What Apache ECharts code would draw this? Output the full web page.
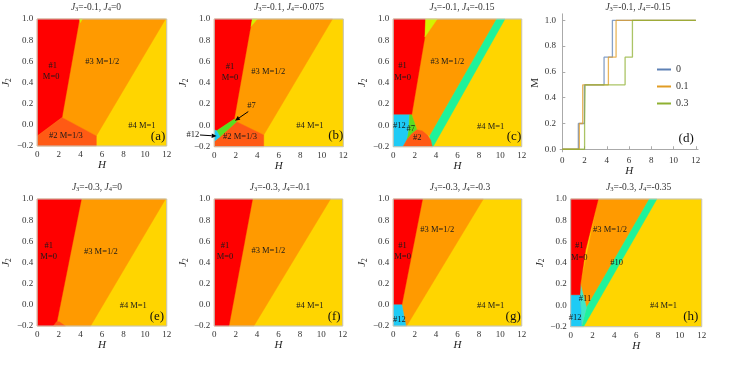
<!DOCTYPE html>
<html><head><meta charset="utf-8">
<script src="https://cdn.jsdelivr.net/npm/echarts@6/dist/echarts.min.js"></script>
<style>html,body{margin:0;padding:0;background:#fff}#c{width:729px;height:365px}</style>
</head><body><div id="c"></div>
<script>
// ---------------- DATA ----------------
const FULL = [[0,-0.2],[12,-0.2],[12,1],[0,1]];
// panel (a) J3=-0.1, J4=0
const A_orange = [[3.92,1],[11.9,1],[5.48,-0.105],[2.3,0.07]];
const A_red    = [[0,1],[3.92,1],[2.3,0.07],[0,-0.105]];
const A_p2     = [[0,-0.105],[2.3,0.07],[5.48,-0.105],[5.48,-0.2],[0,-0.2]];
const A_yg     = [[3.92,1],[4.18,1],[4.0,0.965]];
// panel (b) J3=-0.1, J4=-0.075
const B_orange = [[3.53,1],[11.0,1],[4.6,-0.09],[2.08,0.035],[1.86,0.06]];
const B_red    = [[0,1],[3.53,1],[3.3,0.88],[1.86,0.06],[0.22,-0.05],[0,-0.04]];
const B_yg     = [[3.53,1],[4.0,1],[3.42,0.93]];
const B_g7     = [[1.86,0.06],[2.08,0.035],[0.53,-0.106],[0.22,-0.05]];
const B_cy     = [[0,-0.04],[0.22,-0.05],[0.53,-0.106],[0,-0.15]];
const B_p2     = [[0,-0.15],[0.53,-0.106],[2.08,0.035],[4.6,-0.09],[4.6,-0.2],[0,-0.2]];
// panel (c) J3=-0.1, J4=-0.15
const C_orange = [[3.02,1],[9.66,1],[3.4,-0.1],[2.7,-0.05],[2.2,-0.04],[1.72,0.1],[2.95,0.83]];
const C_b10    = [[9.66,1],[10.44,1],[3.72,-0.2],[3.55,-0.2],[3.4,-0.1]];
const C_red    = [[0,1],[3.02,1],[2.95,0.83],[1.72,0.1],[0,0.1]];
const C_yg     = [[3.02,1],[4.11,1],[2.95,0.83]];
const C_cy     = [[0,0.1],[1.53,0.1],[1.45,-0.05],[1.3,-0.13],[0.9,-0.2],[0,-0.2]];
const C_g7     = [[1.53,0.1],[1.72,0.1],[2.2,-0.04],[1.7,-0.08],[1.3,-0.13],[1.45,-0.05]];
const C_p2     = [[0.9,-0.2],[1.3,-0.13],[1.7,-0.08],[2.2,-0.04],[2.7,-0.05],[3.2,-0.09],[3.5,-0.14],[3.65,-0.2]];
// panel (d) magnetization curves, J3=-0.1, J4=-0.15
const magSeriesNames = ['0','0.1','0.3'];
const mag_J2_0   = [[0,0],[1.44,0.2],[1.98,0.5],[3.75,0.714],[4.5,1],[12,1]];
const mag_J2_0_1 = [[0,0],[1.53,0.2],[1.83,0.5],[4.14,0.714],[4.83,1],[12,1]];
const mag_J2_0_3 = [[0,0],[2.0,0.2],[2.05,0.5],[5.64,0.714],[6.3,1],[12,1]];
const magTicksX = [0,2,4,6,8,10,12];
const magTicksY = [0,0.2,0.4,0.6,0.8,1.0];
// panel (e) J3=-0.3, J4=0
const E_orange = [[4.1,1],[11.9,1],[4.95,-0.2],[1.75,-0.2]];
const E_red    = [[0,1],[4.1,1],[1.75,-0.2],[0,-0.2]];
const E_p2     = [[1.5,-0.2],[1.78,-0.16],[2.05,-0.16],[2.6,-0.2]];
// panel (f) J3=-0.3, J4=-0.1
const F_orange = [[3.58,1],[10.87,1],[3.7,-0.2],[1.37,-0.2]];
const F_red    = [[0,1],[3.58,1],[1.37,-0.2],[0,-0.2]];
// panel (g) J3=-0.3, J4=-0.3
const G_orange = [[2.74,1],[8.42,1],[1.25,-0.2],[1.18,-0.2],[0.8,0]];
const G_red    = [[0,1],[2.74,1],[0.8,0],[0,0]];
const G_cy     = [[0,0],[0.8,0],[1.18,-0.2],[0,-0.2]];
// panel (h) J3=-0.3, J4=-0.35
const H_orange = [[2.53,1],[7.2,1],[1.45,-0.02],[0.9,0.2]];
const H_b10    = [[7.2,1],[7.9,1],[1.18,-0.2],[1.0,-0.2],[1.45,-0.02]];
const H_c11    = [[0.9,0.2],[1.45,-0.02],[1.0,-0.2],[0.95,-0.05],[0.85,0.1]];
const H_cy     = [[0,0.1],[0.85,0.1],[0.95,-0.05],[1.0,-0.2],[0,-0.2]];
const H_red    = [[0,1],[2.53,1],[1.37,0.52],[0.9,0.2],[0.85,0.1],[0,0.1]];

// text annotations [H, J2, text]
const ann_a = [[1.44,0.56,'#1'],[1.29,0.45,'M=0'],[6.03,0.6,'#3 M=1/2'],[2.66,-0.105,'#2 M=1/3'],[9.7,-0.01,'#4 M=1']];
const ann_b = [[1.46,0.55,'#1'],[1.46,0.45,'M=0'],[5.02,0.5,'#3 M=1/2'],[3.47,0.18,'#7'],[-2.0,-0.09,'#12'],[2.39,-0.106,'#2 M=1/3'],[8.9,-0.006,'#4 M=1']];
const arrows_b = [[[3.16,0.13],[1.92,0.044]],[[-1.33,-0.09],[0.22,-0.1]]];
const ann_c = [[0.87,0.56,'#1'],[0.87,0.45,'M=0'],[5.05,0.6,'#3 M=1/2'],[0.56,-0.006,'#12'],[1.62,-0.03,'#7'],[2.24,-0.12,'#2'],[9.1,-0.01,'#4 M=1']];
const ann_e = [[1.06,0.56,'#1'],[1.06,0.45,'M=0'],[5.9,0.5,'#3 M=1/2'],[8.9,-0.01,'#4 M=1']];
const ann_f = [[1.0,0.56,'#1'],[1.0,0.45,'M=0'],[5.05,0.51,'#3 M=1/2'],[8.94,-0.006,'#4 M=1']];
const ann_g = [[0.87,0.56,'#1'],[0.87,0.45,'M=0'],[4.11,0.71,'#3 M=1/2'],[0.56,-0.14,'#12'],[9.1,-0.01,'#4 M=1']];
const ann_h = [[0.79,0.56,'#1'],[0.79,0.45,'M=0'],[3.6,0.71,'#3 M=1/2'],[4.2,0.4,'#10'],[1.31,0.06,'#11'],[0.4,-0.12,'#12'],[8.5,-0.006,'#4 M=1']];

const titlesJ3 = ['-0.1','-0.1','-0.1','-0.1','-0.3','-0.3','-0.3','-0.3'];
const titlesJ4 = ['0','-0.075','-0.15','-0.15','0','-0.1','-0.3','-0.35'];
const panelTags = ['(a)','(b)','(c)','(d)','(e)','(f)','(g)','(h)'];

// ---------------- STYLE / LAYOUT ----------------
const SERIF = 'Liberation Serif';
const COL = {y:'#FFD500', o:'#FF9A00', r:'#FF0000', p2:'#FF5A14', cy:'#1ECBF5', g7:'#5ADD22', b10:'#1EF29B', c11:'#3FE6C9', yg:'#D4F200'};
const GRIDS = [
  {left:36,  top:19, width:130.7, height:127},
  {left:214.3, top:19, width:129, height:127.7},
  {left:393.3, top:19, width:128.4, height:127.7},
  {left:560.1, top:13.85, width:138, height:138},
  {left:35, top:199, width:131.7, height:127},
  {left:214.3, top:199, width:128.4, height:127},
  {left:393.3, top:199, width:128.4, height:127},
  {left:570.7, top:199, width:131, height:127.7}
];
const TITLE_POS = [[96,7],[289,7],[462,7],[638,7],[97,187],[280,187],[460,187],[638.7,187]];

const phase = [
  {gi:0, regions:[['y',FULL],['o',A_orange],['r',A_red],['p2',A_p2],['yg',A_yg]], ann:ann_a, arrows:[], tag:[11.2,-0.11]},
  {gi:1, regions:[['y',FULL],['o',B_orange],['r',B_red],['yg',B_yg],['p2',B_p2],['g7',B_g7],['cy',B_cy]], ann:ann_b, arrows:arrows_b, tag:[11.3,-0.1]},
  {gi:2, regions:[['y',FULL],['o',C_orange],['b10',C_b10],['r',C_red],['yg',C_yg],['cy',C_cy],['g7',C_g7],['p2',C_p2]], ann:ann_c, arrows:[], tag:[11.28,-0.107]},
  {gi:4, regions:[['y',FULL],['o',E_orange],['r',E_red],['p2',E_p2]], ann:ann_e, arrows:[], tag:[11.1,-0.11]},
  {gi:5, regions:[['y',FULL],['o',F_orange],['r',F_red]], ann:ann_f, arrows:[], tag:[11.2,-0.11]},
  {gi:6, regions:[['y',FULL],['o',G_orange],['r',G_red],['cy',G_cy]], ann:ann_g, arrows:[], tag:[11.2,-0.11]},
  {gi:7, regions:[['y',FULL],['o',H_orange],['b10',H_b10],['c11',H_c11],['cy',H_cy],['r',H_red]], ann:ann_h, arrows:[], tag:[11.0,-0.106]}
];

function fmt(v){ return (v < -1e-9 ? '\u2212' : '') + Math.abs(v).toFixed(1); }
const labelStyle = {fontFamily:SERIF, fontSize:9, color:'#333'};

const grid = GRIDS.map((g,i)=>Object.assign({show: i!==3, borderColor:'#c4c4c4', borderWidth:1, backgroundColor:'transparent', z:3}, g));
const xAxis = [], yAxis = [], series = [];

GRIDS.forEach((g,i)=>{
  if (i === 3) {
    xAxis.push({gridIndex:3, type:'value', min:-0.2, max:12.2,
      axisLine:{show:true, lineStyle:{color:'#aaa'}},
      axisTick:{show:true, inside:true, length:3, customValues:magTicksX, lineStyle:{color:'#aaa'}},
      axisLabel:Object.assign({margin:4, customValues:magTicksX, formatter:v=>String(Math.round(v))}, labelStyle),
      splitLine:{show:false}, name:'H', nameLocation:'middle', nameGap:12,
      nameTextStyle:{fontFamily:SERIF, fontStyle:'italic', fontSize:11, color:'#222'}});
    yAxis.push({gridIndex:3, type:'value', min:-0.02, max:1.05,
      axisLine:{show:true, lineStyle:{color:'#aaa'}},
      axisTick:{show:true, inside:true, length:3, customValues:magTicksY, lineStyle:{color:'#aaa'}},
      axisLabel:Object.assign({margin:4, customValues:magTicksY, formatter:fmt}, labelStyle),
      splitLine:{show:false}, name:'M', nameLocation:'middle', nameGap:15, nameRotate:90,
      nameTextStyle:{fontFamily:SERIF, fontSize:11, color:'#222'}});
  } else {
    xAxis.push({gridIndex:i, type:'value', min:0, max:12, interval:2,
      axisLine:{show:false}, axisTick:{show:false}, splitLine:{show:false},
      axisLabel:Object.assign({margin:4, formatter:v=>String(Math.round(v))}, labelStyle),
      name:'H', nameLocation:'middle', nameGap:12,
      nameTextStyle:{fontFamily:SERIF, fontStyle:'italic', fontSize:11, color:'#222'}});
    yAxis.push({gridIndex:i, type:'value', min:-0.2, max:1, interval:0.2,
      axisLine:{show:false}, axisTick:{show:false}, splitLine:{show:false},
      axisLabel:Object.assign({margin:4, formatter:fmt}, labelStyle),
      name:'{i|J}{s|2}', nameLocation:'middle', nameGap:22, nameRotate:90,
      nameTextStyle:{fontFamily:SERIF, fontSize:11, color:'#222',
        rich:{i:{fontFamily:SERIF, fontStyle:'italic', fontSize:11, color:'#222'}, s:{fontFamily:SERIF, fontSize:7.5, color:'#222', padding:[5,0,0,0]}}}});
  }
});

phase.forEach(p=>{
  series.push({type:'custom', xAxisIndex:p.gi, yAxisIndex:p.gi, silent:true, z:2,
    data:p.regions.map((r,i)=>[i,0]),
    renderItem:(params, api)=>{
      const r = p.regions[params.dataIndex];
      const pts = r[1].map(v=>api.coord(v));
      return {type:'polygon', shape:{points:pts}, style:{fill:COL[r[0]], stroke:COL[r[0]], lineWidth:0.4}};
    }});
  const items = p.ann.map(a=>({kind:'t', a})).concat(p.arrows.map(a=>({kind:'a', a}))).concat([{kind:'tag'}]);
  series.push({type:'custom', xAxisIndex:p.gi, yAxisIndex:p.gi, silent:true, z:5, clip:false,
    data:items.map((it,i)=>[i,0]),
    renderItem:(params, api)=>{
      const it = items[params.dataIndex];
      if (it.kind === 't') {
        const c = api.coord([it.a[0], it.a[1]]);
        return {type:'text', x:c[0], y:c[1], style:{text:it.a[2], fontFamily:SERIF, fontSize:8.5, fill:'#1a1a1a', align:'center', verticalAlign:'middle'}};
      }
      if (it.kind === 'tag') {
        const c = api.coord(p.tag);
        return {type:'text', x:c[0], y:c[1], style:{text:panelTags[p.gi], fontFamily:SERIF, fontSize:13, fill:'#111', align:'center', verticalAlign:'middle'}};
      }
      const p0 = api.coord(it.a[0]), p1 = api.coord(it.a[1]);
      const dx = p1[0]-p0[0], dy = p1[1]-p0[1], L = Math.hypot(dx,dy), ux = dx/L, uy = dy/L;
      const hl = 5, hw = 2.2;
      const bx = p1[0]-ux*hl, by = p1[1]-uy*hl;
      return {type:'group', children:[
        {type:'line', shape:{x1:p0[0], y1:p0[1], x2:bx, y2:by}, style:{stroke:'#000', lineWidth:1}},
        {type:'polygon', shape:{points:[[p1[0],p1[1]],[bx-uy*hw, by+ux*hw],[bx+uy*hw, by-ux*hw]]}, style:{fill:'#000'}}
      ]};
    }});
});

const magColors = ['#5E81B5','#E19C24','#8FB032'];
[mag_J2_0, mag_J2_0_1, mag_J2_0_3].forEach((d,k)=>{
  series.push({type:'line', name:magSeriesNames[k], xAxisIndex:3, yAxisIndex:3, step:'end', showSymbol:false, symbol:'none',
    data:d, color:magColors[k], lineStyle:{width:1.3, opacity:0.75, color:magColors[k]}, animation:false});
});
// panel (d) tag
series.push({type:'custom', xAxisIndex:3, yAxisIndex:3, silent:true, z:5, data:[[11.13,0.085]],
  renderItem:(params, api)=>{ const c = api.coord([api.value(0), api.value(1)]);
    return {type:'text', x:c[0], y:c[1], style:{text:'(d)', fontFamily:SERIF, fontSize:13, fill:'#111', align:'center', verticalAlign:'middle'}}; }});

const graphic = TITLE_POS.map((tp,i)=>({type:'text', x:tp[0], y:tp[1], silent:true,
  style:{text:'{i|J}{s|3}{n|=' + titlesJ3[i] + ', }{i|J}{s|4}{n|=' + titlesJ4[i] + '}',
    align:'center', verticalAlign:'middle', fontFamily:SERIF, fontSize:9.5, fill:'#333',
    rich:{i:{fontFamily:SERIF, fontStyle:'italic', fontSize:9.5, fill:'#333'}, n:{fontFamily:SERIF, fontSize:9.5, fill:'#333'}, s:{fontFamily:SERIF, fontSize:6.5, fill:'#333', padding:[4,0,0,0]}}}}));

const chart = echarts.init(document.getElementById('c'), null, {renderer:'canvas'});
chart.setOption({
  animation:false, backgroundColor:'#fff',
  grid, xAxis, yAxis, series, graphic,
  legend:{data:magSeriesNames, orient:'vertical', left:652, top:59.5, itemWidth:14, itemHeight:2, icon:'rect', itemGap:7,
    textStyle:{fontFamily:SERIF, fontSize:10, color:'#333'}}
});
</script></body></html>
